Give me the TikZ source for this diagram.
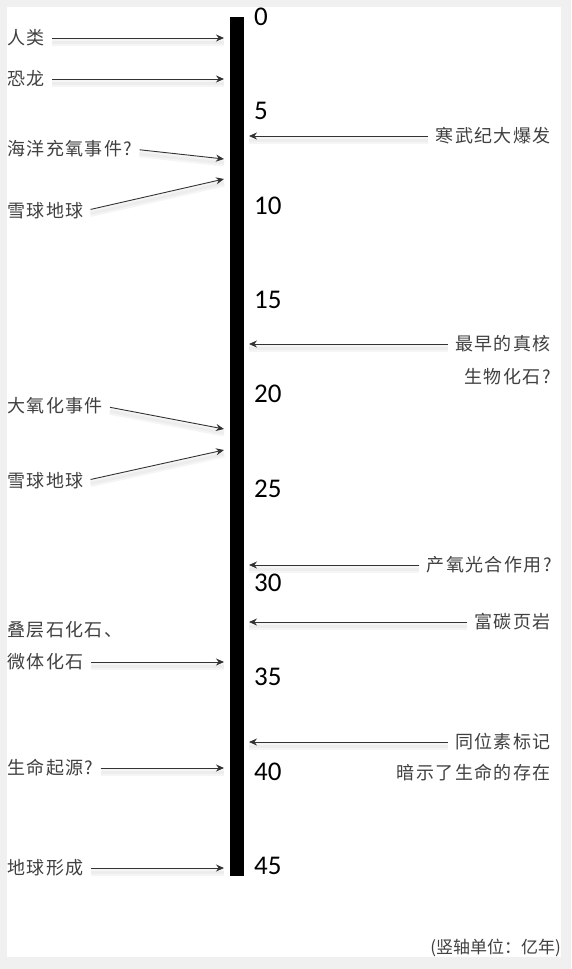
\documentclass[tikz,border=0pt]{standalone}
\usepackage{fontspec}
\setmainfont{Carlito}
\newfontfamily\cjk[LetterSpace=8]{Noto Sans CJK SC}
\newfontfamily\cjkplain{Noto Sans CJK SC}
\usetikzlibrary{arrows.meta}

\begin{document}
\begin{tikzpicture}[x=1pt,y=-1pt,
  lbl/.style={font=\cjk\fontsize{18}{20}\selectfont, text=black!75, inner sep=0pt},
  num/.style={font=\fontsize{27}{27}\selectfont, anchor=west, inner sep=0pt},
  arr/.style={-{Stealth[length=8pt,width=7pt]}, draw=black!80, line width=0.9pt,
    preaction={draw=black!4, line width=7pt, -, transform canvas={yshift=-4pt}},
    preaction={draw=black!7, line width=3pt, -, transform canvas={yshift=-4pt}}},
  lefta/.style={arr, shorten <=7pt},
  righta/.style={arr, shorten <=7pt}
]
% background and page
\fill[black!6] (0,0) rectangle (571,969);
\fill[white] (7,7) rectangle (561,957);
\useasboundingbox (0,0) rectangle (571,969);

% time axis
\node[fill=black, inner sep=0pt, minimum width=14pt, minimum height=859pt, anchor=north west] (bar) at (230,17) {};
\foreach \v [count=\i from 0] in {0,5,...,45}
  \node[num] (t\v) at (254,17+94.3*\i) {\v};

% left side
\node[lbl, anchor=west] (human)    at (7,38)  {人类};
\node[lbl, anchor=west] (dino)     at (7,79)  {恐龙};
\node[lbl, anchor=west] (oxyocean) at (7,149) {海洋充氧事件?};
\node[lbl, anchor=west] (snow1)    at (7,211) {雪球地球};
\node[lbl, anchor=west] (goe)      at (7,406) {大氧化事件};
\node[lbl, anchor=west] (snow2)    at (7,481) {雪球地球};
\node[lbl, anchor=west] (strom1)   at (7,630) {叠层石化石、};
\node[lbl, anchor=west] (strom2)   at (7,662) {微体化石};
\node[lbl, anchor=west] (origin)   at (7,768) {生命起源?};
\node[lbl, anchor=west] (earth)    at (7,868) {地球形成};

\coordinate (tipH) at (224,38);
\coordinate (tipD) at (224,79);
\coordinate (tipO) at (224,159);
\coordinate (tipS) at (224,179);
\coordinate (tipG) at (224,429);
\coordinate (tipT) at (224,450);
\coordinate (tipM) at (224,662);
\coordinate (tipL) at (224,768);
\coordinate (tipE) at (224,868);

\draw[lefta] (human) -- (tipH);
\draw[lefta] (dino) -- (tipD);
\draw[lefta] (oxyocean.east) -- (tipO);
\draw[lefta] (snow1.east) -- (tipS);
\draw[lefta] (goe.east) -- (tipG);
\draw[lefta] (snow2.east) -- (tipT);
\draw[lefta] (strom2) -- (tipM);
\draw[lefta] (origin) -- (tipL);
\draw[lefta] (earth) -- (tipE);

% right side
\node[lbl, anchor=east] (cambrian) at (551,136) {寒武纪大爆发};
\node[lbl, anchor=east] (euk1)     at (551,344) {最早的真核};
\node[lbl, anchor=east] (euk2)     at (551,377) {生物化石?};
\node[lbl, anchor=east] (photo)    at (552,565) {产氧光合作用?};
\node[lbl, anchor=east] (shale)    at (551,622) {富碳页岩};
\node[lbl, anchor=east] (iso1)     at (551,742) {同位素标记};
\node[lbl, anchor=east] (iso2)     at (551,773) {暗示了生命的存在};

\coordinate (tipC) at (249,136);
\coordinate (tipK) at (249,344);
\coordinate (tipP) at (249,565);
\coordinate (tipR) at (249,622);
\coordinate (tipI) at (249,742);

\draw[righta] (cambrian) -- (tipC);
\draw[righta] (euk1) -- (tipK);
\draw[righta] (photo) -- (tipP);
\draw[righta] (shale) -- (tipR);
\draw[righta] (iso1) -- (tipI);

\node[font=\cjkplain\fontsize{17}{20}\selectfont, text=black!75, inner sep=0pt, anchor=east] (unit) at (561,948) {(竖轴单位：亿年)};
\end{tikzpicture}
\end{document}
